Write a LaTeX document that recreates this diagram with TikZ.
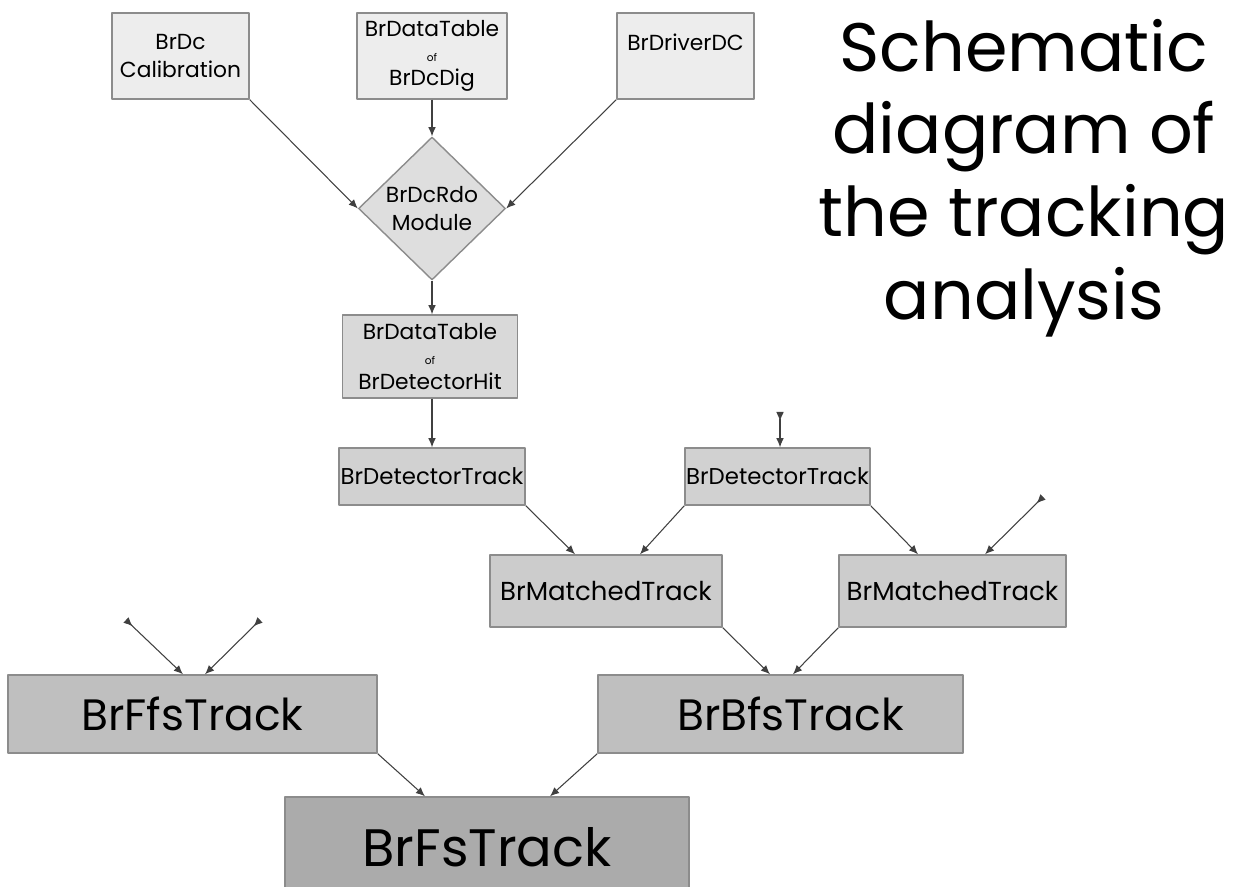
\documentclass[tikz,border=0pt]{standalone}
\usepackage{fontspec}
\setmainfont{Poppins}
\usetikzlibrary{arrows.meta,shapes.geometric,calc}

\begin{document}
\begin{tikzpicture}[line join=round,
  box/.style={draw=black!45, line width=0.4pt, rectangle, align=center, inner sep=0pt},
  tip/.style={-{Latex[length=2.6pt,width=2.2pt]}, draw=black!75, line width=0.3pt},
  freetip/.style={{Latex[reversed,length=2.6pt,width=2.2pt]}-{Latex[length=2.6pt,width=2.2pt]}, draw=black!75, line width=0.3pt},
  small/.style={font=\fontsize{6.2}{8}\selectfont},
  mid/.style={font=\fontsize{6.5}{8}\selectfont},
  midbig/.style={font=\fontsize{7.4}{9}\selectfont},
  big/.style={font=\fontsize{12.5}{15}\selectfont},
  huge/.style={font=\fontsize{15}{18}\selectfont}]
\useasboundingbox (0,0) rectangle (12.47,-8.87);
% input boxes
\node[box, small, fill=black!7, minimum width=1.37cm, minimum height=0.86cm] (cal) at (1.805,-0.56) {BrDc\\Calibration};
\node[box, small, fill=black!7, minimum width=1.50cm, minimum height=0.86cm] (dig) at (4.32,-0.56) {BrDataTable\\[-1pt]{\fontsize{3}{4}\selectfont of}\\[-1pt]BrDcDig};
\node[box, small, fill=black!7, minimum width=1.37cm, minimum height=0.86cm] (drv) at (6.855,-0.56) {BrDriverDC\\\phantom{X}};
\node[box, small, diamond, fill=black!13, minimum width=1.47cm, minimum height=1.43cm] (mod) at (4.32,-2.085) {BrDcRdo\\Module};
\node[box, small, fill=black!15, minimum width=1.75cm, minimum height=0.83cm] (hit) at (4.30,-3.565) {BrDataTable\\[-1pt]{\fontsize{3}{4}\selectfont of}\\[-1pt]BrDetectorHit};
% tracks
\node[box, mid, fill=black!18, minimum width=1.86cm, minimum height=0.57cm] (dt1) at (4.32,-4.765) {BrDetectorTrack};
\node[box, mid, fill=black!18, minimum width=1.85cm, minimum height=0.57cm] (dt2) at (7.775,-4.765) {BrDetectorTrack};
\node[box, midbig, fill=black!20, minimum width=2.32cm, minimum height=0.72cm] (mt1) at (6.06,-5.91) {BrMatchedTrack};
\node[box, midbig, fill=black!20, minimum width=2.27cm, minimum height=0.72cm] (mt2) at (9.525,-5.91) {BrMatchedTrack};
\node[box, big, fill=black!25, minimum width=3.69cm, minimum height=0.78cm] (ffs) at (1.925,-7.14) {BrFfsTrack};
\node[box, big, fill=black!25, minimum width=3.65cm, minimum height=0.78cm] (bfs) at (7.805,-7.14) {\hspace{0.2cm}BrBfsTrack};
\node[box, huge, fill=black!33, minimum width=4.04cm, minimum height=1.00cm] (fs) at (4.87,-8.47) {BrFsTrack};
% title
\node[align=center, font=\fontsize{19.5}{23.5}\selectfont] (title) at (10.24,-1.78) {Schematic\\diagram of\\the tracking\\analysis};
% free ends
\coordinate (in1) at (7.80,-4.12);
\coordinate (in2) at (10.43,-4.97);
\coordinate (in3) at (1.26,-6.20);
\coordinate (in4) at (2.60,-6.20);
% connectors
\draw[tip] (cal.south east) -- (mod.west);
\draw[tip] (dig.south) -- (mod.north);
\draw[tip] (drv.south west) -- (mod.east);
\draw[tip] (mod.south) -- (hit.north -| mod.south);
\draw[tip] (hit.south -| dt1.north) -- (dt1.north);
\draw[freetip] (in1) -- (in1 |- dt2.north);
\draw[tip] (dt1.south east) -- ($(mt1.north)+(-0.31,0)$);
\draw[tip] (dt2.south west) -- ($(mt1.north)+(0.34,0)$);
\draw[tip] (dt2.south east) -- ($(mt2.north)+(-0.345,0)$);
\draw[freetip] (in2) -- ($(mt2.north)+(0.325,0)$);
\draw[freetip] (in3) -- ($(ffs.north)+(-0.095,0)$);
\draw[freetip] (in4) -- ($(ffs.north)+(0.125,0)$);
\draw[tip] (mt1.south east) -- ($(bfs.north)+(-0.105,0)$);
\draw[tip] (mt2.south west) -- ($(bfs.north)+(0.125,0)$);
\draw[tip] (ffs.south east) -- ($(fs.north)+(-0.62,0)$);
\draw[tip] (bfs.south west) -- ($(fs.north)+(0.63,0)$);
\end{tikzpicture}
\end{document}
